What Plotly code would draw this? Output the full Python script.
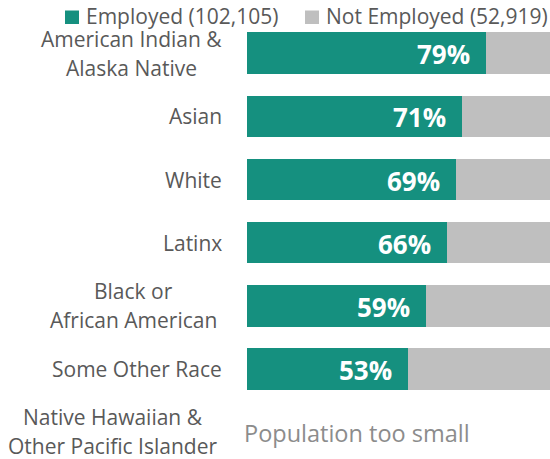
import plotly.graph_objects as go

# ---- data ----
categories = [
    "American Indian & Alaska Native",
    "Asian",
    "White",
    "Latinx",
    "Black or African American",
    "Some Other Race",
    "Native Hawaiian & Other Pacific Islander",
]
label_lines = [
    ["American Indian &", "Alaska Native"],
    ["Asian"],
    ["White"],
    ["Latinx"],
    ["Black or", "African American"],
    ["Some Other Race"],
    ["Native Hawaiian &", "Other Pacific Islander"],
]
employed_pct = [79, 71, 69, 66, 59, 53, None]
not_employed_pct = [21, 29, 31, 34, 41, 47, None]
series_names = ["Employed (102,105)", "Not Employed (52,919)"]
small_note = "Population too small"

TEAL = "#15907f"
GRAY = "#bfbfbf"
TXT = "#595959"
FONT = "Open Sans"
LBL = 21

W, H = 550, 459
PL = 247  # left margin (px)
PW = W - PL


def px_x(px):
    return (px - PL) / PW


def px_y(py):
    return 1 - py / H


fig = go.Figure()
fig.add_trace(go.Bar(
    y=categories, x=employed_pct, orientation="h", name=series_names[0],
    marker=dict(color=TEAL, line=dict(width=0)), width=0.66, showlegend=False,
    hoverinfo="skip",
))
fig.add_trace(go.Bar(
    y=categories, x=not_employed_pct, orientation="h", name=series_names[1],
    marker=dict(color=GRAY, line=dict(width=0)), width=0.66, showlegend=False,
    hoverinfo="skip",
))

annotations = []
# percentage labels inside employed bars
for cat, v in zip(categories, employed_pct):
    if v is None:
        continue
    annotations.append(dict(
        x=v, y=cat, xref="x", yref="y", text=f"<b>{v}%</b>", showarrow=False,
        xanchor="right", yanchor="middle", xshift=-14, yshift=-1,
        font=dict(family=FONT, size=26, color="white"),
    ))

# category labels
block_centers = {0: 131.5, 4: 133.5, 6: 112.5}
for i, (cat, lines) in enumerate(zip(categories, label_lines)):
    if len(lines) == 1:
        annotations.append(dict(
            x=0, y=cat, xref="paper", yref="y", text=lines[0], showarrow=False,
            xanchor="right", yanchor="middle", xshift=-23,
            font=dict(family=FONT, size=LBL, color=TXT),
        ))
    else:
        cx = px_x(block_centers[i])
        for j, ln in enumerate(lines):
            annotations.append(dict(
                x=cx, y=cat, xref="paper", yref="y", text=ln, showarrow=False,
                xanchor="center", yanchor="middle", yshift=(14.5 if j == 0 else -14.5),
                font=dict(family=FONT, size=LBL, color=TXT),
            ))

# note for missing row
annotations.append(dict(
    x=0, y=categories[6], xref="x", yref="y", text=small_note, showarrow=False,
    xanchor="left", yanchor="middle", xshift=-5, yshift=-1,
    font=dict(family=FONT, size=23.5, color="#8c8c8c"),
))

# legend (manual)
shapes = []
leg_sq_x = [65, 305]
leg_txt_x = [84, 324]
for k, (name, col) in enumerate(zip(series_names, [TEAL, GRAY])):
    shapes.append(dict(
        type="rect", xref="paper", yref="paper",
        x0=px_x(leg_sq_x[k]), x1=px_x(leg_sq_x[k] + 14),
        y0=px_y(24), y1=px_y(10.5), fillcolor=col, line=dict(width=0),
    ))
    annotations.append(dict(
        x=px_x(leg_txt_x[k]), y=px_y(16.5), xref="paper", yref="paper", text=name,
        showarrow=False, xanchor="left", yanchor="middle",
        font=dict(family=FONT, size=LBL, color=TXT),
    ))

fig.update_layout(
    width=W, height=H, barmode="stack",
    margin=dict(l=PL, r=0, t=0, b=0),
    paper_bgcolor="white", plot_bgcolor="white",
    xaxis=dict(range=[0, 100], visible=False, fixedrange=True),
    yaxis=dict(type="category", categoryorder="array", categoryarray=categories,
               range=[6.43, -0.845], showticklabels=False, showgrid=False,
               zeroline=False, showline=False, ticks="", fixedrange=True),
    annotations=annotations, shapes=shapes, bargap=0.34,
    font=dict(family=FONT, color=TXT),
)

fig.write_html("out.html", config={"displayModeBar": False})
